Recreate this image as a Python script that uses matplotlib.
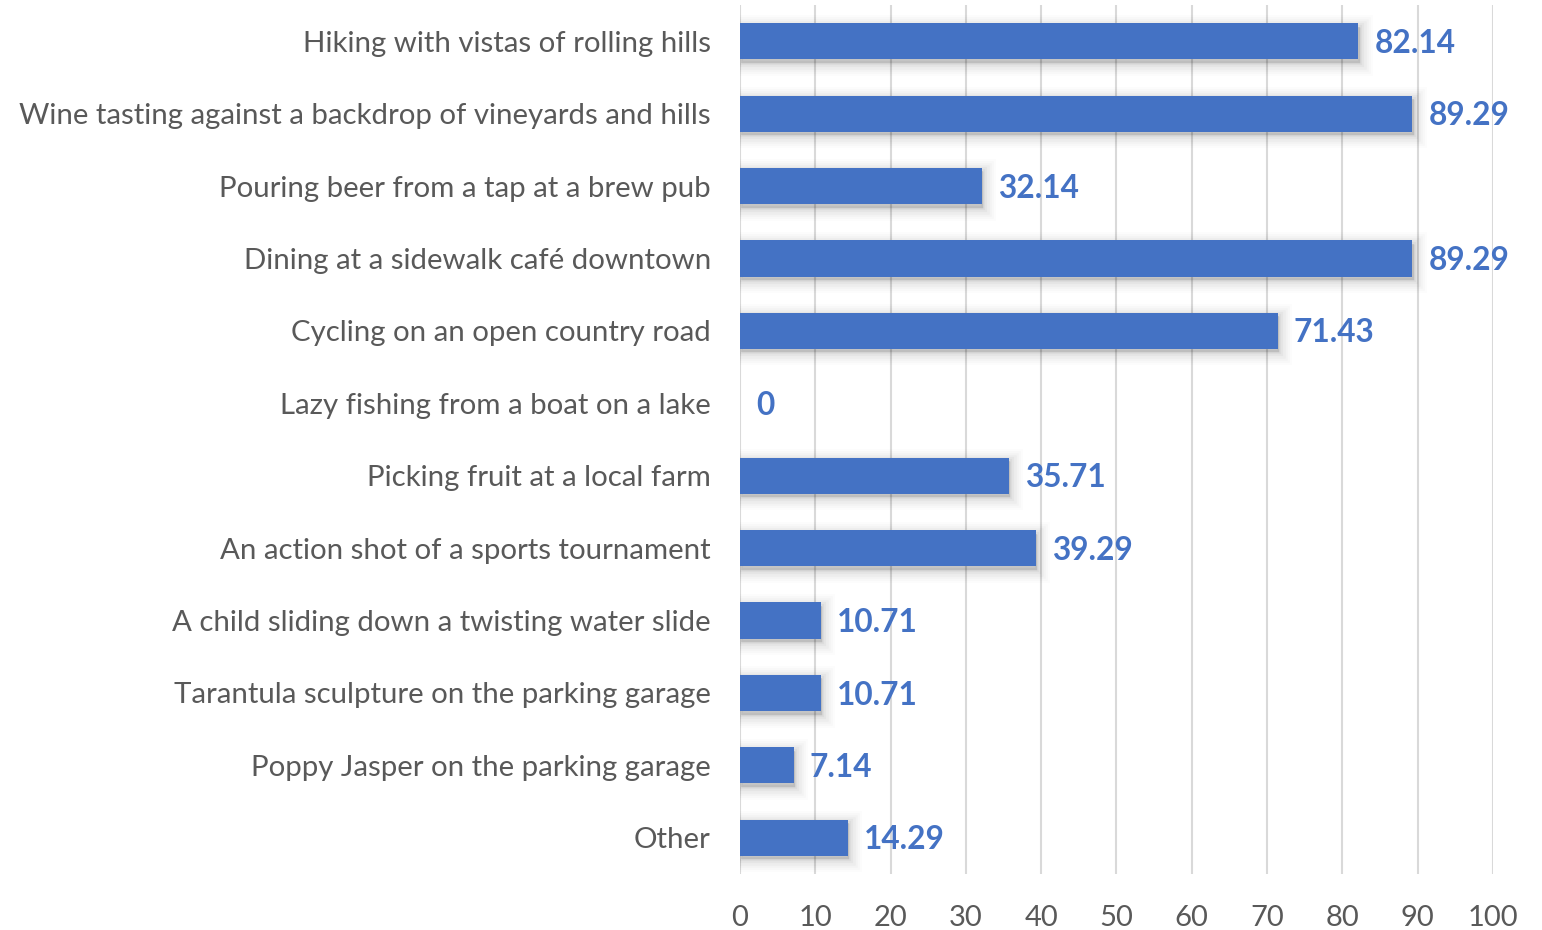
import matplotlib.pyplot as plt
from matplotlib.transforms import offset_copy

plt.rcParams['font.family'] = ['Lato', 'DejaVu Sans']

activities = [
    "Hiking with vistas of rolling hills",
    "Wine tasting against a backdrop of vineyards and hills",
    "Pouring beer from a tap at a brew pub",
    "Dining at a sidewalk café downtown",
    "Cycling on an open country road",
    "Lazy fishing from a boat on a lake",
    "Picking fruit at a local farm",
    "An action shot of a sports tournament",
    "A child sliding down a twisting water slide",
    "Tarantula sculpture on the parking garage",
    "Poppy Jasper on the parking garage",
    "Other",
]
percent = [82.14, 89.29, 32.14, 89.29, 71.43, 0, 35.71, 39.29, 10.71, 10.71, 7.14, 14.29]
ticks = [0, 10, 20, 30, 40, 50, 60, 70, 80, 90, 100]

blue = "#4472C4"
gray_text = "#595959"

fig = plt.figure(figsize=(15.42, 9.30), dpi=100)
ax = fig.add_axes([0.4799, 0.0602, 0.4883, 0.9344])

pos = list(range(len(activities)))

# soft drop shadow under each bar, built from a few wide translucent strokes
shadow_tf = offset_copy(ax.transData, fig=fig, x=1.0, y=-2.5, units="points")
sh_pos = [p for p, v in zip(pos, percent) if v > 0]
sh_val = [v for v in percent if v > 0]
for lw, a in [(18, 0.012), (15, 0.015), (12, 0.02), (9, 0.025), (6, 0.03), (3, 0.035)]:
    ax.barh(sh_pos, sh_val, height=0.5, color="black", alpha=a,
            edgecolor="black", linewidth=lw, transform=shadow_tf, zorder=2)

ax.barh(pos, percent, height=0.5, color=blue, linewidth=0, zorder=3)

for p, v in zip(pos, percent):
    ax.annotate(f"{v:g}", xy=(v, p), xytext=(11.5, -1.5), textcoords="offset points",
                va="center", ha="left", fontsize=22.8, fontweight="bold", color=blue,
                zorder=4)

ax.set_xlim(0, 100)
ax.set_ylim(len(activities) - 0.5, -0.5)
ax.set_xticks(ticks)
ax.set_yticks(pos)
ax.set_yticklabels(activities)
ax.tick_params(axis="y", length=0, pad=21, labelsize=21.2, labelcolor=gray_text)
ax.tick_params(axis="x", length=0, pad=22, labelsize=21, labelcolor=gray_text)

ax.grid(axis="x", color="#D9D9D9", linewidth=1.5)
ax.set_axisbelow(True)
for s in ax.spines.values():
    s.set_visible(False)

fig.savefig("out.png", dpi=100)
